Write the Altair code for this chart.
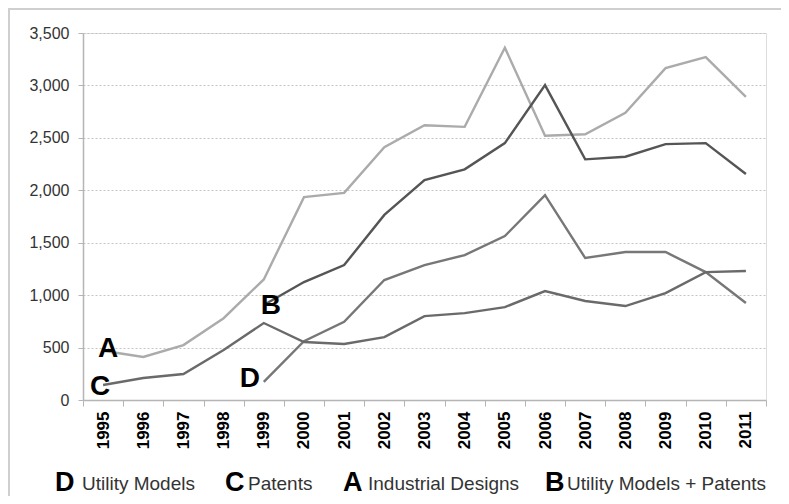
import altair as alt
import pandas as pd

years = [str(y) for y in range(1995, 2012)]
series = ["Utility Models", "Patents", "Industrial Designs", "Utility Models + Patents"]
letters = ["D", "C", "A", "B"]

utility_models = [None, None, None, None, 172, 560, 745, 1144, 1287, 1382, 1563, 1954, 1354, 1411, 1411, 1220, 925]
patents = [143, 210, 248, 477, 734, 553, 534, 600, 800, 829, 886, 1039, 944, 896, 1020, 1220, 1230]
industrial_designs = [470, 410, 524, 780, 1150, 1935, 1975, 2412, 2620, 2605, 3360, 2520, 2535, 2740, 3165, 3270, 2890]
um_plus_patents = [None, None, None, None, 906, 1125, 1287, 1765, 2097, 2200, 2450, 3003, 2295, 2320, 2440, 2450, 2155]

y_ticks = [0, 500, 1000, 1500, 2000, 2500, 3000, 3500]

values_by_series = [utility_models, patents, industrial_designs, um_plus_patents]
rows = []
for name, letter, vals in zip(series, letters, values_by_series):
    for yr, v in zip(years, vals):
        if v is not None:
            rows.append({"year": yr, "value": v, "series": name, "letter": letter})
df = pd.DataFrame(rows)

colors = ["#777777", "#6a6a6a", "#ababab", "#555555"]
widths = [2.4, 2.4, 2.2, 4.0]

x_enc = alt.X(
    "year:O",
    scale=alt.Scale(type="band", paddingInner=0, paddingOuter=0),
    axis=alt.Axis(
        title=None, labelAngle=270, labelFontWeight="bold", labelFontSize=17,
        labelColor="#000000", labelPadding=5, tickBand="extent", tickSize=6,
        tickColor="#b5b5b5", domainColor="#b5b5b5", domainWidth=1.5, grid=False,
    ),
)
y_enc = alt.Y(
    "value:Q",
    scale=alt.Scale(domain=[0, 3500]),
    axis=alt.Axis(
        title=None, values=y_ticks, format=",.0f", labelFontSize=16, labelColor="#333333",
        labelPadding=9, tickSize=5, tickColor="#b5b5b5", domainColor="#b5b5b5",
        domainWidth=1.5, gridDash=[2, 2], gridColor="#c4c4c4", gridWidth=1,
    ),
)

lines = alt.Chart(df).mark_line().encode(
    x=x_enc,
    y=y_enc,
    color=alt.Color("series:N", scale=alt.Scale(domain=series, range=colors), legend=None),
    strokeWidth=alt.StrokeWidth("series:N", scale=alt.Scale(domain=series, range=widths), legend=None),
)

# letter annotations at the first point of each series
first_pts = df.groupby("series", sort=False).first().reset_index()
offsets = {"A": (5, 6), "B": (7, 9), "C": (-3, 10), "D": (-14, 5)}
annots = []
for letter, (dx, dy) in offsets.items():
    sub = first_pts[first_pts["letter"] == letter]
    annots.append(
        alt.Chart(sub).mark_text(
            font="Liberation Sans", fontWeight="bold", fontSize=28, color="#000000",
            dx=dx, dy=dy, align="center", baseline="alphabetic",
        ).encode(x=alt.X("year:O"), y=alt.Y("value:Q"), text="letter:N")
    )

# bottom legend (letter + label)
legend_letter_x = [-28, 142, 260, 462]
legend_label_x = [-1, 165, 285, 484]
legend_y = 457
one = pd.DataFrame({"k": [0]})
legend_marks = []
for letter, name, lx, tx in zip(letters, series, legend_letter_x, legend_label_x):
    legend_marks.append(
        alt.Chart(one).mark_text(
            text=letter, font="Liberation Sans", fontWeight="bold", fontSize=27,
            color="#000000", align="left", baseline="alphabetic",
        ).encode(x=alt.value(lx), y=alt.value(legend_y + 1))
    )
    legend_marks.append(
        alt.Chart(one).mark_text(
            text=name, font="Liberation Sans", fontSize=19, color="#333333",
            align="left", baseline="alphabetic",
        ).encode(x=alt.value(tx), y=alt.value(legend_y))
    )

frame_top = alt.Chart(one).mark_rule(color="#cfcfcf", strokeWidth=2).encode(
    x=alt.value(-75), x2=alt.value(706), y=alt.value(-24)
)
frame_left = alt.Chart(one).mark_rule(color="#cfcfcf", strokeWidth=2).encode(
    x=alt.value(-74), y=alt.value(-25), y2=alt.value(471)
)

chart = alt.layer(frame_top, frame_left, lines, *annots, *legend_marks).properties(
    width=683,
    height=367,
    autosize=alt.AutoSizeParams(type="none"),
    padding={"left": 75, "top": 25, "right": 15, "bottom": 96},
    background="#ffffff",
).configure_view(strokeWidth=0).configure(font="Liberation Sans")

chart.save("out.html", embed_options={"renderer": "svg", "actions": False})
